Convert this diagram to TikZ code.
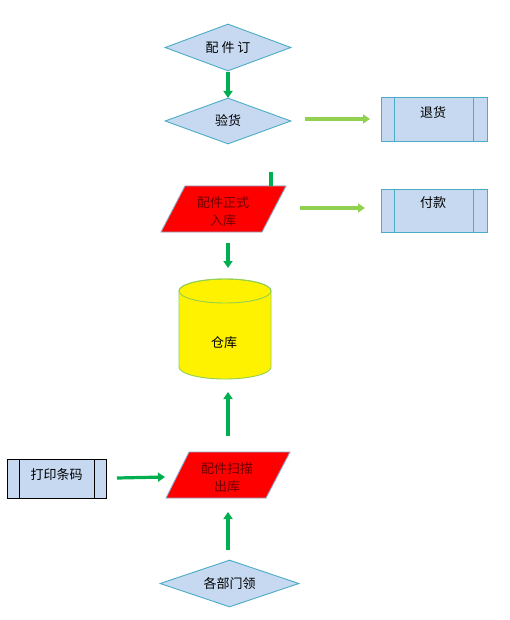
\documentclass[tikz,border=0pt]{standalone}
\usepackage{fontspec}
\setmainfont{Noto Sans CJK SC}
\usetikzlibrary{arrows.meta,shapes.geometric}
\definecolor{boxfill}{HTML}{C6D9F1}
\definecolor{boxline}{HTML}{4BACC6}
\definecolor{dgreen}{HTML}{00B050}
\definecolor{lgreen}{HTML}{92D050}
\definecolor{pline}{HTML}{8EA9C8}
\definecolor{ptext}{HTML}{6E0000}
\definecolor{cylline}{HTML}{92D050}
\begin{document}
\begin{tikzpicture}[x=1pt,y=-1pt,
  every node/.style={font=\fontsize{13}{18}\selectfont, inner sep=0pt},
  dia/.style={diamond, draw=boxline, fill=boxfill, line width=0.9pt, aspect=2.7},
  subbox/.style={rectangle, draw=boxline, fill=boxfill, line width=0.9pt},
  para/.style={rectangle, minimum width=101pt, minimum height=46pt},
  darr/.style={draw=dgreen, line width=3.2pt, -{Triangle[length=7pt,width=9pt]}},
  larr/.style={draw=lgreen, line width=3.2pt, -{Triangle[length=7pt,width=9pt]}},
  lbl/.style={text=black}
]
\useasboundingbox (0,0) rectangle (510,620);
\fill[white] (0,0) rectangle (510,620);

% diamonds
\node[dia, minimum width=126pt, minimum height=47pt] (order) at (228,47.5) {};
\node[lbl] at (228,47.5) {配\ 件\ 订};
\node[dia, minimum width=126pt, minimum height=46pt] (check) at (228,121) {};
\node[lbl] at (228,121) {验货};
\node[dia, minimum width=139pt, minimum height=47pt] (dept) at (229.5,583.5) {};
\node[lbl] at (229.5,583.5) {各部门领};

% subroutine boxes
\node[subbox, minimum width=106pt, minimum height=44pt] (ret) at (434,119) {};
\draw[boxline, line width=0.9pt] (394,97) -- (394,141) (473,97) -- (473,141);
\node[lbl] at (433,113) {退货};
\node[subbox, minimum width=106pt, minimum height=43pt] (pay) at (434,210.5) {};
\draw[boxline, line width=0.9pt] (394,189) -- (394,232) (473,189) -- (473,232);
\node[lbl] at (433,203) {付款};
\node[subbox, draw=black, minimum width=99pt, minimum height=39pt] (print) at (56.5,478.5) {};
\draw[black, line width=0.9pt] (19,459) -- (19,498) (94,459) -- (94,498);
\node[lbl] at (56.5,475) {打印条码};

% parallelograms
\node[para] (stockin) at (223.5,209) {};
\draw[pline, fill=red, line width=0.9pt] (185,186) -- (286,186) -- (262,232) -- (161,232) -- cycle;
\node[text=ptext, align=center] at (223,212) {配件正式\\入库};
\node[para] (stockout) at (228,475) {};
\draw[pline, fill=red, line width=0.9pt] (189,452) -- (290,452) -- (266,498) -- (166,498) -- cycle;
\node[text=ptext, align=center] at (227,477.5) {配件扫描\\出库};

% cylinder
\node[rectangle, minimum width=92pt, minimum height=100pt] (store) at (225,329) {};
\draw[cylline, fill=yellow, line width=0.9pt] (179,291) -- (179,367)
  arc[start angle=180, end angle=0, x radius=46, y radius=12] -- (271,291)
  arc[start angle=0, end angle=-180, x radius=46, y radius=12] -- cycle;
\draw[cylline, line width=0.9pt] (225,291) ellipse[x radius=46, y radius=12];
\node[lbl] at (224,343) {仓库};

% connectors
\coordinate (a1s) at (228,72);
\coordinate (a1e) at (228,98);
\draw[darr] (a1s) -- (a1e);
\coordinate (r1s) at (305,119);
\coordinate (r1e) at (370,119);
\draw[larr] (r1s) -- (r1e);
\coordinate (stub1) at (271,172);
\coordinate (stub2) at (271,186);
\draw[dgreen, line width=3.2pt] (stub1) -- (stub2);
\coordinate (r2s) at (300,208);
\coordinate (r2e) at (365,208);
\draw[larr] (r2s) -- (r2e);
\coordinate (d1s) at (228,243);
\coordinate (d1e) at (228,268);
\draw[darr] (d1s) -- (d1e);
\coordinate (u1s) at (228,436);
\coordinate (u1e) at (228,392);
\draw[darr] (u1s) -- (u1e);
\coordinate (p1s) at (117,478);
\coordinate (p1e) at (165,477);
\draw[darr] (p1s) -- (p1e);
\coordinate (u2s) at (228,550);
\coordinate (u2e) at (228,512);
\draw[darr] (u2s) -- (u2e);
\end{tikzpicture}
\end{document}
